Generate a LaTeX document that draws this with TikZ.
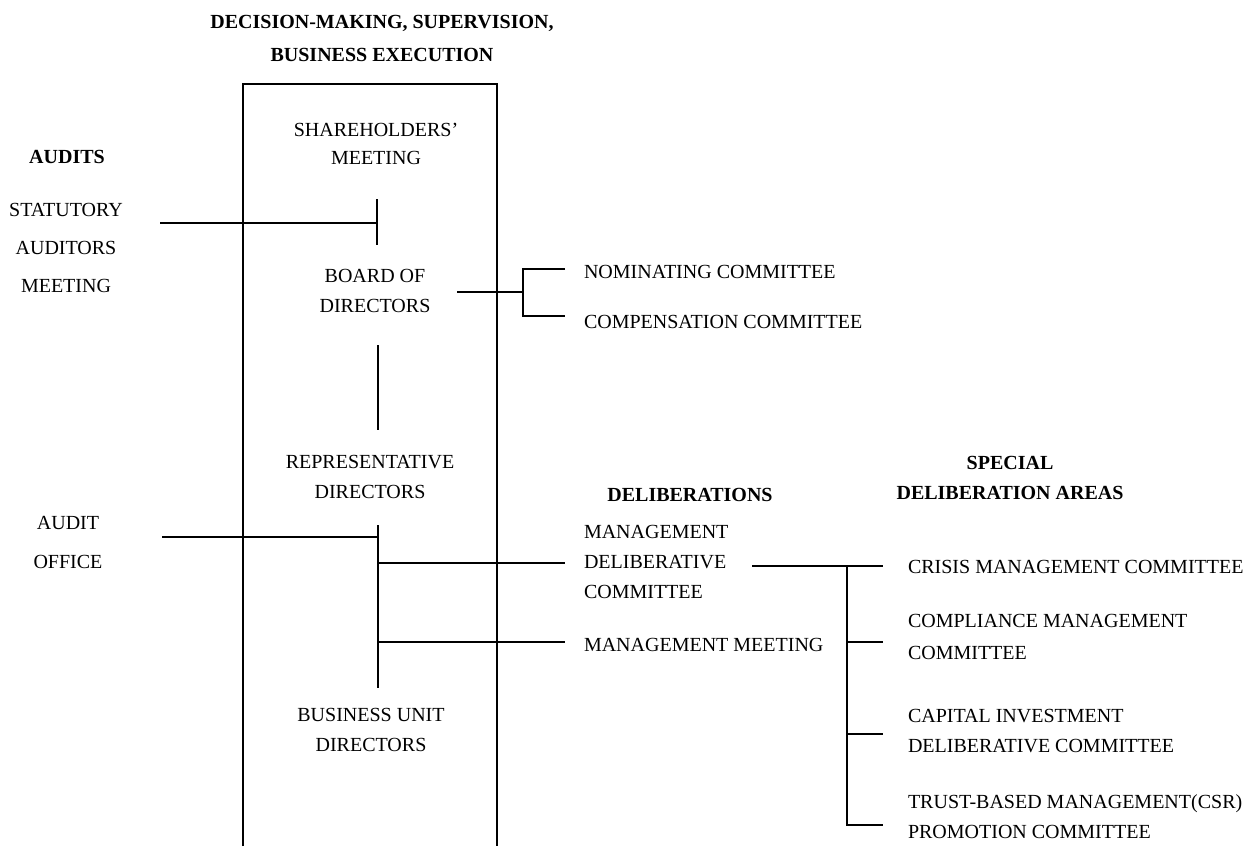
\documentclass[tikz,border=0pt]{standalone}
\usepackage{fontspec}
\setmainfont{Liberation Serif}
\usetikzlibrary{positioning}

\begin{document}
\begin{tikzpicture}[x=0.5pt, y=-0.5pt, line width=1pt,
    lbl/.style = {align=center, inner sep=0pt, font=\fontsize{10}{15}\selectfont},
    lft/.style = {align=left, anchor=west, inner sep=0pt, font=\fontsize{10}{15}\selectfont},
    hd/.style = {align=center, inner sep=0pt, font=\fontsize{10}{15}\selectfont\bfseries}]
    \useasboundingbox (0,0) rectangle (1251,846);
    % frame, open at the bottom
    \draw (243,846) -- (243,84) -- (497,84) -- (497,846);
    \node[hd, font=\fontsize{10}{16.5}\selectfont\bfseries] (title) at (382,38) {DECISION-MAKING, SUPERVISION,\\BUSINESS EXECUTION};
    \node[lbl, font=\fontsize{10}{14}\selectfont] (shm) at (376,144) {SHAREHOLDERS'\\MEETING};
    \node[lbl] (board) at (375,291) {BOARD OF\\DIRECTORS};
    \node[lbl] (rep) at (370,477) {REPRESENTATIVE\\DIRECTORS};
    \node[lbl] (bud) at (371,730) {BUSINESS UNIT\\DIRECTORS};
    % audits
    \node[hd] (audits) at (67,157) {AUDITS};
    \node[lbl, font=\fontsize{10}{19}\selectfont] (sam) at (66,248) {STATUTORY\\AUDITORS\\MEETING};
    \node[lbl, font=\fontsize{10}{19.5}\selectfont] (aoff) at (68,542) {AUDIT\\OFFICE};
    % committees of the board
    \node[lft] (nom) at (583,272) {NOMINATING COMMITTEE};
    \node[lft] (comp) at (583,322) {COMPENSATION COMMITTEE};
    % deliberations
    \node[hd] (delib) at (690,495) {DELIBERATIONS};
    \node[lft] (mdc) at (583,562) {MANAGEMENT\\DELIBERATIVE\\COMMITTEE};
    \node[lft] (mm) at (583,645) {MANAGEMENT MEETING};
    % special areas
    \node[hd] (special) at (1010,478) {SPECIAL\\DELIBERATION AREAS};
    \node[lft] (crisis) at (907,567) {CRISIS MANAGEMENT COMMITTEE};
    \node[lft, font=\fontsize{10}{16}\selectfont] (compl) at (907,637) {COMPLIANCE MANAGEMENT\\COMMITTEE};
    \node[lft] (capital) at (907,731) {CAPITAL INVESTMENT\\DELIBERATIVE COMMITTEE};
    \node[lft] (trust) at (907,817) {TRUST-BASED MANAGEMENT(CSR)\\PROMOTION COMMITTEE};
    % line ends and joints
    \coordinate (sa0) at (160,223);
    \coordinate (sa) at (377,223);
    \coordinate (ao0) at (162,537);
    \coordinate (ao) at (378,537);
    \coordinate (b0) at (457,292);
    \coordinate (bj) at (523,292);
    \coordinate (bt) at (565,0); % ends of the bracket
    \coordinate (rt) at (565,0);
    \coordinate (d0) at (752,566);
    \coordinate (dj) at (847,566);
    \coordinate (st) at (883,0);
    % audit lines
    \draw (sa0) -- (sa);
    \draw (377,199) -- (377,245);
    \draw (ao0) -- (ao);
    % board to committees
    \draw (b0) -- (bj);
    \draw (bt |- 0,269) -| (bj) |- (bt |- 0,316);
    % board to representative directors
    \draw (378,345) -- (378,430);
    % representative directors down
    \draw (378,525) -- (378,688);
    \draw (378,563) -- (rt |- 0,563);
    \draw (378,642) -- (rt |- 0,642);
    % deliberative committee to special areas
    \draw (d0) -- (st |- dj);
    \draw (dj) -- (847,825) -- (st |- 0,825);
    \draw (847,642) -- (st |- 0,642);
    \draw (847,734) -- (st |- 0,734);
\end{tikzpicture}
\end{document}
